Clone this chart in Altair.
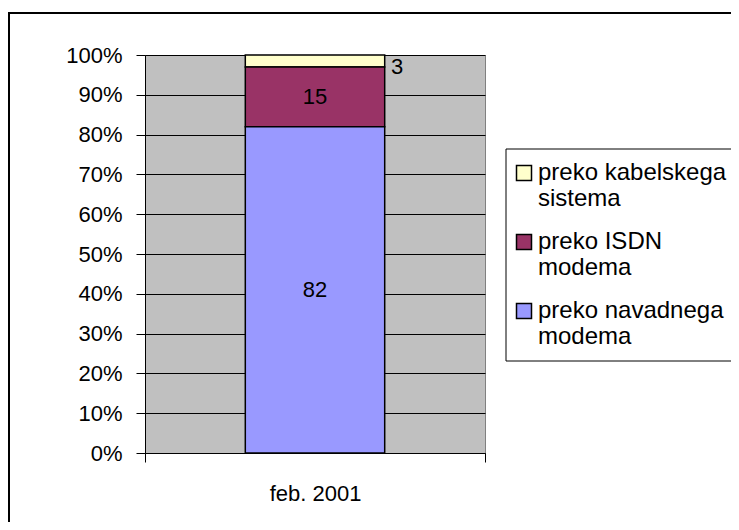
import altair as alt
import pandas as pd

# ---- data ----
period = ["feb. 2001", "feb. 2001", "feb. 2001"]
categories = ["preko kabelskega sistema", "preko ISDN modema", "preko navadnega modema"]
values = [3, 15, 82]
stack_rank = [2, 1, 0]
colors = ["#FFFFCC", "#993366", "#9999FF"]
y_ticks = [0, 0.1, 0.2, 0.3, 0.4, 0.5, 0.6, 0.7, 0.8, 0.9, 1.0]

df = pd.DataFrame({"period": period, "kategorija": categories,
                   "vrednost": values, "rank": stack_rank})

FONT = "Liberation Sans"

base = alt.Chart(df).transform_stack(
    stack="vrednost", groupby=["period"], as_=["y0", "y1"],
    sort=[alt.SortField(field="rank", order="ascending")], offset="normalize"
).transform_calculate(mid="(datum.y0 + datum.y1) / 2")

x_axis = alt.Axis(labelAngle=0, labelFontSize=22, labelFont=FONT,
                  labelColor="black", tickColor="black", domainColor="black",
                  tickSize=9, tickBand="extent", labelPadding=21,
                  domainWidth=1, tickWidth=1)
x_scale = alt.Scale(paddingInner=0, paddingOuter=0)

y_axis = alt.Axis(format=".0%", values=y_ticks, labelFontSize=22, labelFont=FONT,
                  labelColor="black", tickColor="black", domainColor="black",
                  gridColor="black", gridOpacity=1, grid=True, tickSize=9,
                  labelPadding=14, domainWidth=1, tickWidth=1, gridWidth=1,
                  labelOverlap=False)
y_scale = alt.Scale(domain=[0, 1], nice=False)

bars = base.mark_bar(stroke="black", strokeWidth=1.5,
                     width=alt.RelativeBandSize(0.41)).encode(
    x=alt.X("period:N", title=None, scale=x_scale, axis=x_axis),
    y=alt.Y("y0:Q", title=None, scale=y_scale, axis=y_axis),
    y2="y1:Q",
    color=alt.Color("kategorija:N", title=None,
                    scale=alt.Scale(domain=categories, range=colors),
                    legend=alt.Legend(orient="none", legendX=367, legendY=106,
                                      padding=0, symbolType="square", symbolSize=225,
                                      symbolStrokeColor="black", symbolStrokeWidth=1.5,
                                      labelFontSize=24, labelFont=FONT, labelColor="black",
                                      labelOffset=2, rowPadding=19, labelLimit=400,
                                      labelBaseline="middle",
                                      labelExpr="[slice(datum.label, 0, lastindexof(datum.label, ' ')), slice(datum.label, lastindexof(datum.label, ' ') + 1)]")),
)

inner_text = base.transform_filter("datum.vrednost >= 10").mark_text(
    fontSize=22, font=FONT, color="black", baseline="middle", align="center"
).encode(x=alt.X("period:N", title=None, scale=x_scale, axis=x_axis),
         y=alt.Y("mid:Q", title=None, scale=y_scale, axis=y_axis),
         text="vrednost:Q")

outer_text = base.transform_filter("datum.vrednost < 10").mark_text(
    fontSize=22, font=FONT, color="black", baseline="middle", align="left", dx=76, dy=6
).encode(x=alt.X("period:N", title=None, scale=x_scale, axis=x_axis),
         y=alt.Y("mid:Q", title=None, scale=y_scale, axis=y_axis),
         text="vrednost:Q")

frame = alt.Chart(alt.Data(values=[{}])).mark_rect(
    filled=False, stroke="black", strokeWidth=2
).encode(x=alt.value(-136), x2=alt.value(800), y=alt.value(-42), y2=alt.value(700))

legend_box = alt.Chart(alt.Data(values=[{}])).mark_rect(
    fill="white", stroke="black", strokeWidth=1
).encode(x=alt.value(361), x2=alt.value(700), y=alt.value(94), y2=alt.value(306))

chart = alt.layer(frame, legend_box, bars, inner_text, outer_text).properties(
    width=340, height=398,
    autosize=alt.AutoSizeParams(type="none"),
    padding={"left": 137, "top": 47, "right": 246, "bottom": 69},
    background="white",
).configure_view(fill="#C0C0C0", stroke="#808080", strokeWidth=1)

chart.save("out.html", embed_options={"renderer": "svg", "actions": False})
